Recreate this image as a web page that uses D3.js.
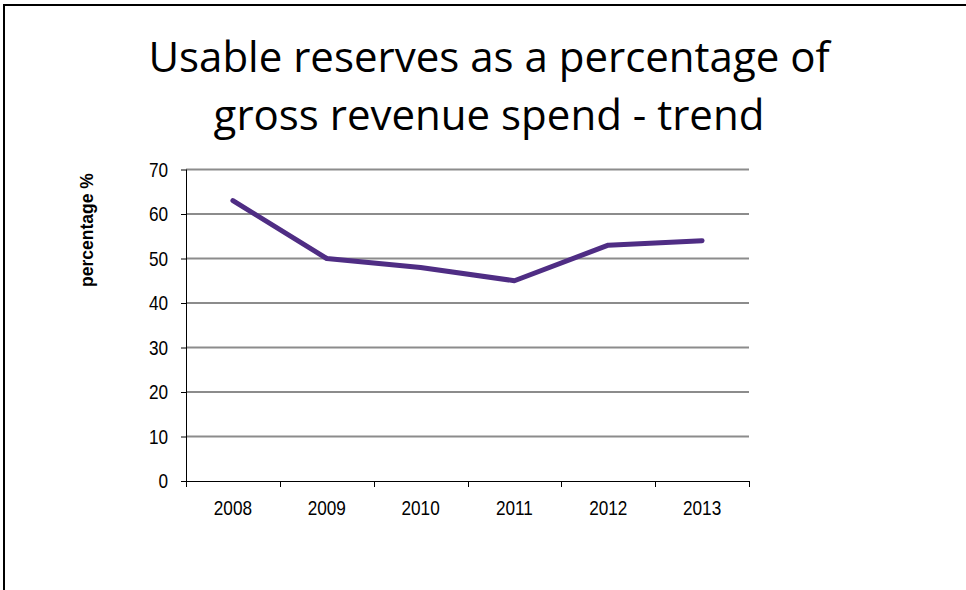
<!DOCTYPE html>
<html>
<head>
<meta charset="utf-8">
<script src="https://cdn.jsdelivr.net/npm/d3@7"></script>
<style>
  html, body { margin: 0; padding: 0; background: #fff; }
  svg { display: block; }
</style>
</head>
<body>
<svg id="chart" width="966" height="590"></svg>
<script>
// Reserves trend data
const years = ["2008", "2009", "2010", "2011", "2012", "2013"];
const reservePct = [63, 50, 48, 45, 53, 54];
const yTicks = [0, 10, 20, 30, 40, 50, 60, 70];
const titleLines = ["Usable reserves as a percentage of", "gross revenue spend - trend"];
const yAxisTitle = "percentage %";

const svg = d3.select("#chart");
const W = 966, H = 590;
const plot = { left: 186, right: 749, top: 169.5, bottom: 481 };
const labelFont = "'Liberation Sans', Arial, sans-serif";
const squeeze = 0.86; // narrow the axis lettering horizontally

// Slide frame (left and top edges)
svg.append("path")
  .attr("d", `M4,${H} L4,5 L${W},5`)
  .attr("fill", "none")
  .attr("stroke", "#000")
  .attr("stroke-width", 2);

// Title
titleLines.forEach((t, i) => {
  svg.append("text")
    .attr("x", 489)
    .attr("y", 72 + i * 58)
    .attr("font-family", "'Open Sans', 'Noto Sans', sans-serif")
    .attr("font-size", 42)
    .attr("fill", "#000")
    .attr("text-anchor", "middle")
    .text(t);
});

const x = d3.scaleBand().domain(years).range([plot.left, plot.right]);
const y = d3.scaleLinear().domain([0, 70]).range([plot.bottom, plot.top]);

// Horizontal gridlines
svg.append("g")
  .selectAll("line")
  .data(yTicks.filter(d => d > 0))
  .join("line")
  .attr("x1", plot.left)
  .attr("x2", plot.right)
  .attr("y1", d => y(d))
  .attr("y2", d => y(d))
  .attr("stroke", "#8c8c8c")
  .attr("stroke-width", 2);

// Y axis: line and ticks from d3, labels set narrower
const yAxis = svg.append("g")
  .attr("transform", `translate(${plot.left},0)`)
  .call(d3.axisLeft(y).tickValues(yTicks).tickSize(5).tickFormat(""));
yAxis.select(".domain").attr("stroke", "#000").attr("d", `M0.5,${plot.top}V${plot.bottom}`);
yAxis.selectAll(".tick line").attr("stroke", "#000");
svg.append("g")
  .selectAll("text")
  .data(yTicks)
  .join("text")
  .attr("transform", d => `translate(${plot.left - 18},${y(d) + 7}) scale(${squeeze},1)`)
  .attr("text-anchor", "end")
  .attr("font-family", labelFont)
  .attr("font-size", 20)
  .attr("fill", "#000")
  .text(d => d);

// X axis with ticks on category boundaries
const xAxis = svg.append("g")
  .attr("transform", `translate(0,${plot.bottom})`);
xAxis.append("line")
  .attr("x1", plot.left).attr("x2", plot.right)
  .attr("y1", 0.5).attr("y2", 0.5)
  .attr("stroke", "#000");
const bounds = years.map(d => x(d)).concat([plot.right]);
xAxis.selectAll("line.tk")
  .data(bounds)
  .join("line")
  .attr("class", "tk")
  .attr("x1", d => Math.round(d) + 0.5)
  .attr("x2", d => Math.round(d) + 0.5)
  .attr("y1", 0)
  .attr("y2", 6)
  .attr("stroke", "#000");
xAxis.selectAll("text")
  .data(years)
  .join("text")
  .attr("transform", d => `translate(${x(d) + x.bandwidth() / 2},34) scale(${squeeze},1)`)
  .attr("text-anchor", "middle")
  .attr("font-family", labelFont)
  .attr("font-size", 20)
  .attr("fill", "#000")
  .text(d => d);

// Y axis title
svg.append("text")
  .attr("transform", `translate(93,230) rotate(-90)`)
  .attr("text-anchor", "middle")
  .attr("font-family", labelFont)
  .attr("font-weight", "bold")
  .attr("font-size", 17.5)
  .attr("fill", "#000")
  .text(yAxisTitle);

// Trend line
const line = d3.line()
  .x((d, i) => x(years[i]) + x.bandwidth() / 2)
  .y(d => y(d));
svg.append("path")
  .datum(reservePct)
  .attr("d", line)
  .attr("fill", "none")
  .attr("stroke", "#4f2d84")
  .attr("stroke-width", 5)
  .attr("stroke-linecap", "round")
  .attr("stroke-linejoin", "round");
</script>
</body>
</html>
